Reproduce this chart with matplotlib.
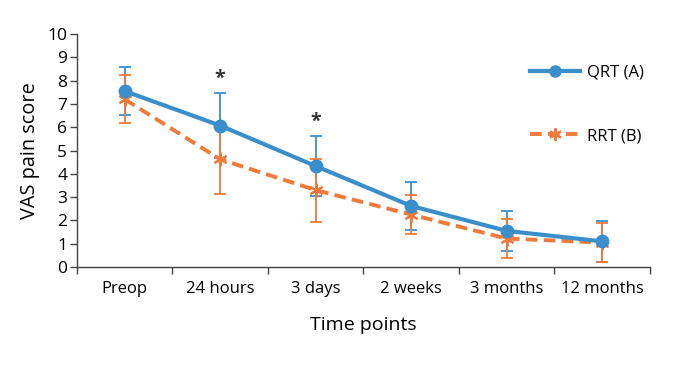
import numpy as np
import matplotlib
matplotlib.use("Agg")
import matplotlib.pyplot as plt
from matplotlib.lines import Line2D

plt.rcParams['font.family'] = ['Open Sans', 'DejaVu Sans']

# data
time_points = ["Preop", "24 hours", "3 days", "2 weeks", "3 months", "12 months"]
qrt_mean = [7.55, 6.07, 4.33, 2.62, 1.55, 1.1]
qrt_sd = [1.03, 1.4, 1.3, 1.03, 0.86, 0.87]
rrt_mean = [7.2, 4.62, 3.3, 2.25, 1.22, 1.05]
rrt_sd = [1.03, 1.5, 1.35, 0.85, 0.85, 0.82]
signif = ["", "*", "*", "", "", ""]

blue = "#3a8fcb"
orange = "#f07a3a"

fig = plt.figure(figsize=(6.77, 3.67), dpi=100)
ax = fig.add_axes([0.1137, 0.2725, 0.8463, 0.6348])

x = np.arange(len(time_points))

ax.errorbar(x, qrt_mean, yerr=qrt_sd, fmt="none", ecolor=blue,
            elinewidth=1.3, capsize=4, capthick=1.3, zorder=2)
ax.errorbar(x, rrt_mean, yerr=rrt_sd, fmt="none", ecolor=orange,
            elinewidth=1.3, capsize=4, capthick=1.3, zorder=2)
ax.plot(x, qrt_mean, color=blue, lw=3, marker="o", ms=9, zorder=4)
ax.plot(x, rrt_mean, color=orange, lw=2.8, ls=(0, (3, 1.6)),
        marker=(6, 2, 0), ms=10, mew=1.5, zorder=3)

for xi, s, m, sd in zip(x, signif, qrt_mean, qrt_sd):
    if s:
        ax.text(xi, m + sd + 0.6, s, ha="center", va="center",
                fontsize=14, fontweight="bold", color="#333333")

ax.set_xlim(-0.5, len(time_points) - 0.5)
ax.set_ylim(0, 10)
ax.set_yticks(range(0, 11))
ax.set_xticks(np.arange(len(time_points) + 1) - 0.5)
ax.set_xticklabels([])
ax.set_xticks(x, minor=True)
ax.set_xticklabels(time_points, minor=True)
ax.tick_params(axis="x", which="minor", length=0, pad=10, labelsize=12)
ax.tick_params(axis="x", which="major", length=5, width=1, color="#444444")
ax.tick_params(axis="y", length=5, width=1, color="#444444", labelsize=12.5, pad=2)

for side in ["top", "right"]:
    ax.spines[side].set_visible(False)
for side in ["left", "bottom"]:
    ax.spines[side].set_color("#444444")
    ax.spines[side].set_linewidth(1)

ax.set_xlabel("Time points", fontsize=14, labelpad=14)
ax.set_ylabel("VAS pain score", fontsize=14.3, labelpad=5)

handles = [
    Line2D([], [], color=blue, lw=3, marker="o", ms=8),
    Line2D([], [], color=orange, lw=2.8, ls=(0, (3, 1.6)),
           marker=(6, 2, 0), ms=9, mew=1.5),
]
ax.legend(handles, ["QRT (A)", "RRT (B)"], loc="upper left",
          bbox_to_anchor=(0.765, 0.933), frameon=False, fontsize=12,
          handlelength=3.0, handletextpad=0.4, labelspacing=2.85)

fig.savefig("out.png", dpi=100)
